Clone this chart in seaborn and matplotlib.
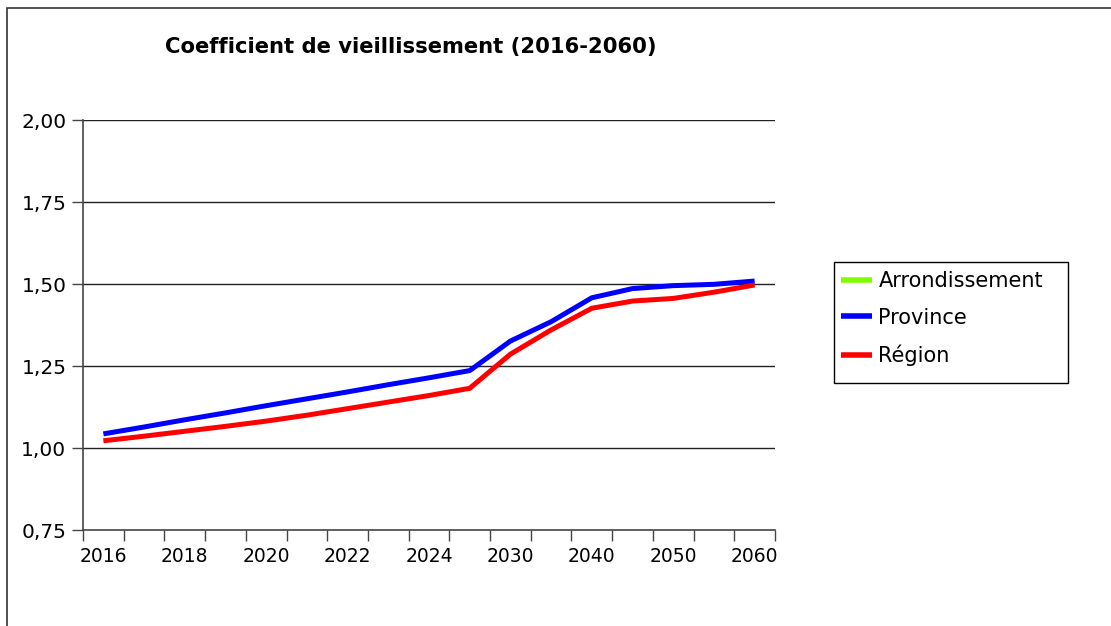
import matplotlib.pyplot as plt
import seaborn as sns
import numpy as np
import pandas as pd
from matplotlib.lines import Line2D
from matplotlib.patches import Rectangle

# Data
annees = ['2016', '2017', '2018', '2019', '2020', '2021', '2022', '2023', '2024', '2025',
          '2030', '2035', '2040', '2045', '2050', '2055', '2060']
arrondissement = [np.nan] * len(annees)
province = [1.043, 1.064, 1.086, 1.107, 1.129, 1.150, 1.171, 1.193, 1.214, 1.236,
            1.326, 1.385, 1.458, 1.486, 1.495, 1.499, 1.509]
region = [1.022, 1.036, 1.051, 1.066, 1.082, 1.100, 1.120, 1.140, 1.160, 1.182,
          1.286, 1.360, 1.426, 1.448, 1.456, 1.475, 1.497]
series = ['Arrondissement', 'Province', 'Région']
colors = {'Arrondissement': '#80ff00', 'Province': '#0000ff', 'Région': '#ff0000'}
y_ticks = [0.75, 1.00, 1.25, 1.50, 1.75, 2.00]

sns.set_style("white")
plt.rcParams['font.family'] = ['DejaVu Sans']
plt.rcParams['text.color'] = 'black'
plt.rcParams['xtick.color'] = 'black'
plt.rcParams['ytick.color'] = 'black'

idx = np.arange(len(annees))
df = pd.DataFrame({
    'idx': np.tile(idx, 3),
    'valeur': arrondissement + province + region,
    'serie': np.repeat(series, len(annees)),
}).dropna()

fig = plt.figure(figsize=(11.11, 6.26), dpi=100)
ax = fig.add_axes([83 / 1111, 1 - 530 / 626, 692 / 1111, 410 / 626])

sns.lineplot(data=df, x='idx', y='valeur', hue='serie', hue_order=series,
             palette=colors, linewidth=3.6, ax=ax, legend=False)
for line in ax.lines:
    line.set_solid_capstyle('butt')
    line.set_solid_joinstyle('miter')

ax.set_xlim(-0.5, len(annees) - 0.5)
ax.set_ylim(0.75, 2.00)
ax.set_xlabel('')
ax.set_ylabel('')

# y axis
ax.set_yticks(y_ticks)
ax.set_yticklabels([f'{v:.2f}'.replace('.', ',') for v in y_ticks], fontsize=14.5)
ax.tick_params(axis='y', length=8, width=1, color='#444444', pad=4, direction='out', left=True)
for v in y_ticks[1:]:
    ax.axhline(v, color='#222222', lw=1, zorder=0)

# x axis: labels every 2 categories, ticks at category boundaries
ax.set_xticks(idx[::2])
ax.set_xticklabels([annees[i] for i in idx[::2]], fontsize=13.5)
ax.set_xticks(np.arange(-0.5, len(annees), 1), minor=True)
ax.tick_params(axis='x', which='major', length=0, pad=12)
ax.tick_params(axis='x', which='minor', length=8, width=1, color='#444444', direction='out', bottom=True)

for s in ['top', 'right']:
    ax.spines[s].set_visible(False)
for s in ['left', 'bottom']:
    ax.spines[s].set_color('#444444')
    ax.spines[s].set_linewidth(1.2)

fig.text(411 / 1111, 1 - 47 / 626, 'Coefficient de vieillissement (2016-2060)',
         ha='center', va='center', fontsize=15.2, fontweight='bold')

handles = [Line2D([0], [0], color=colors[s], lw=4, solid_capstyle='butt') for s in series]
leg = fig.legend(handles, series, loc='upper left',
                 bbox_to_anchor=(841 / 1111, 1 - 271 / 626),
                 fontsize=15, frameon=False,
                 handlelength=1.5, handletextpad=0.3, labelspacing=0.8,
                 borderpad=0.0, borderaxespad=0)

# legend box
fig.patches.append(Rectangle((834 / 1111, 1 - 383 / 626), 234 / 1111, 121 / 626,
                             transform=fig.transFigure, fill=False,
                             edgecolor='black', lw=1))

# outer chart frame (cut off at right and bottom)
fig.patches.append(Rectangle((7 / 1111, -0.1), 1.2, 1.1 - 8 / 626, transform=fig.transFigure,
                             fill=False, edgecolor='#333333', lw=1.2))

plt.savefig('out.png', dpi=100)
